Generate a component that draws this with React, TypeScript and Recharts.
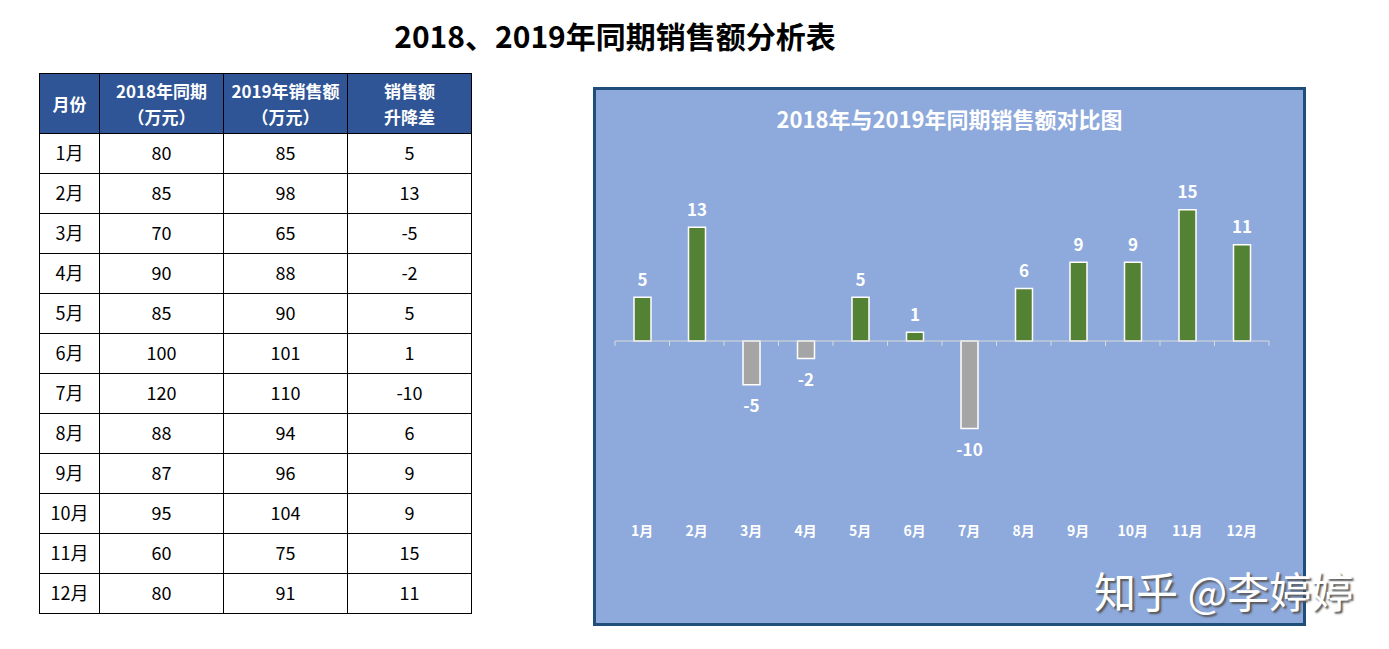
import { BarChart, Bar, XAxis, YAxis, Cell, LabelList, ReferenceLine } from 'recharts';

const months = ['1月', '2月', '3月', '4月', '5月', '6月', '7月', '8月', '9月', '10月', '11月', '12月'];
const sales2018 = [80, 85, 70, 90, 85, 100, 120, 88, 87, 95, 60, 80];
const sales2019 = [85, 98, 65, 88, 90, 101, 110, 94, 96, 104, 75, 91];
const diff = [5, 13, -5, -2, 5, 1, -10, 6, 9, 9, 15, 11];

const headers = ['月份', '2018年同期\n（万元）', '2019年销售额\n（万元）', '销售额\n升降差'];
const colWidths = [60, 124, 124, 124];

const data = months.map((m, i) => ({ month: m, diff: diff[i] }));

const cjk = '"Noto Sans CJK SC", "Noto Sans", sans-serif';
const narrow = '"Liberation Sans Narrow", "Noto Sans CJK SC", sans-serif';

const cellBorder = '1px solid #000';

function DiffLabel(props: any) {
  const { x, y, width, height, value } = props;
  const top = Math.min(y, y + height);
  const bottom = Math.max(y, y + height);
  const cy = value >= 0 ? top - 19 : bottom + 20;
  return (
    <text x={x + width / 2} y={cy} textAnchor="middle" dominantBaseline="central"
      fill="#fff" fontSize={17} fontWeight="bold" fontFamily={narrow}>
      {value}
    </text>
  );
}

function ZeroAxis(props: any) {
  const { x1, x2, y1 } = props;
  const n = months.length;
  const step = (x2 - x1) / n;
  const ticks = [];
  for (let i = 0; i <= n; i++) {
    const tx = x1 + step * i;
    ticks.push(<line key={i} x1={tx} x2={tx} y1={y1} y2={y1 + 5} stroke="#D9D9D9" strokeWidth={1} />);
  }
  return (
    <g>
      <line x1={x1} x2={x2} y1={y1} y2={y1} stroke="#D9D9D9" strokeWidth={1} />
      {ticks}
    </g>
  );
}

export default function App() {
  return (
    <div style={{ position: 'absolute', left: 0, top: 0, width: 1389, height: 649, background: '#fff', fontFamily: cjk }}>
      <div style={{ position: 'absolute', left: 0, width: 1230, top: 15, textAlign: 'center', fontSize: 30, fontWeight: 'bold', color: '#000', lineHeight: '40px' }}>
        2018、2019年同期销售额分析表
      </div>

      <table style={{ position: 'absolute', left: 39, top: 73, borderCollapse: 'collapse', tableLayout: 'fixed', width: 432 }}>
        <colgroup>
          {colWidths.map((w, i) => <col key={i} style={{ width: w }} />)}
        </colgroup>
        <thead>
          <tr style={{ height: 60 }}>
            {headers.map((h, i) => (
              <th key={i} style={{ border: cellBorder, background: '#2F5597', color: '#fff', fontSize: 17, fontWeight: 'bold', lineHeight: '26px', whiteSpace: 'pre-line', padding: 0 }}>
                {h}
              </th>
            ))}
          </tr>
        </thead>
        <tbody>
          {months.map((m, i) => (
            <tr key={m} style={{ height: 40 }}>
              {[m, sales2018[i], sales2019[i], diff[i]].map((v, j) => (
                <td key={j} style={{ border: cellBorder, textAlign: 'center', fontSize: 18, color: '#000', padding: '0 0 3px 0' }}>{v}</td>
              ))}
            </tr>
          ))}
        </tbody>
      </table>

      <div style={{ position: 'absolute', left: 593, top: 87, width: 713, height: 539, boxSizing: 'border-box', border: '3px solid #1F4E79', background: '#8EA9DB' }}>
        <div style={{ position: 'absolute', left: 0, right: 0, top: 13, textAlign: 'center', color: '#fff', fontSize: 22, fontWeight: 'bold', lineHeight: '30px' }}>
          2018年与2019年同期销售额对比图
        </div>
        <BarChart width={707} height={533} data={data} margin={{ top: 76, right: 34, left: 19, bottom: 77 }}>
          <YAxis hide domain={[-20, 20]} />
          <XAxis dataKey="month" axisLine={false} tickLine={false} height={30} tickMargin={4}
            tick={{ fill: '#fff', fontSize: 14, fontWeight: 'bold', fontFamily: cjk }} interval={0} />
          <ReferenceLine y={0} shape={ZeroAxis} />
          <Bar dataKey="diff" barSize={17} stroke="#fff" strokeWidth={1.5} isAnimationActive={false}>
            {data.map((d, i) => (
              <Cell key={i} fill={d.diff >= 0 ? '#548235' : '#A5A5A5'} />
            ))}
            <LabelList dataKey="diff" content={DiffLabel} />
          </Bar>
        </BarChart>
      </div>

      <div style={{ position: 'absolute', left: 1094, top: 563, fontSize: 42, color: '#fff', lineHeight: '54px', textShadow: '2px 2px 2px #555', whiteSpace: 'nowrap' }}>
        知乎 @李婷婷
      </div>
    </div>
  );
}
